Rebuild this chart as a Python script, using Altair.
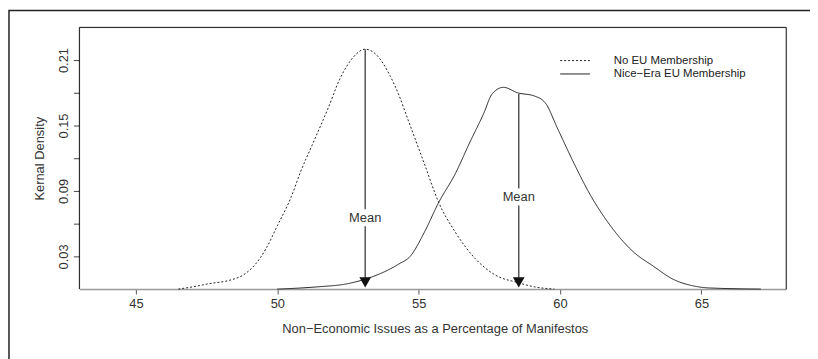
import altair as alt
import pandas as pd

# ---- data ----
no_eu_x = [46.5, 47.0, 47.6, 48.3, 48.8, 49.2, 49.6, 50.0, 50.5, 50.8, 51.3, 51.8, 52.2,
           52.7, 53.1, 53.5, 54.0, 54.3, 54.6, 55.2, 55.7, 56.3, 57.0, 57.7, 58.5, 59.1, 59.8]
no_eu_y = [0.0, 0.002, 0.005, 0.008, 0.013, 0.022, 0.037, 0.058, 0.085, 0.106, 0.136, 0.166, 0.192,
           0.213, 0.220, 0.215, 0.195, 0.178, 0.157, 0.115, 0.080, 0.052, 0.028, 0.013, 0.006, 0.002, 0.0]

nice_x = [50.0, 51.4, 52.5, 53.1, 53.8, 54.3, 54.7, 55.2, 55.7, 56.3, 56.8, 57.3, 57.6, 58.0,
          58.5, 59.1, 59.5, 59.9, 60.5, 61.1, 61.7, 62.6, 63.3, 64.0, 64.7, 65.3, 67.1]
nice_y = [0.0, 0.002, 0.005, 0.009, 0.016, 0.023, 0.030, 0.052, 0.079, 0.106, 0.134, 0.161, 0.179, 0.185,
          0.180, 0.177, 0.170, 0.148, 0.115, 0.085, 0.061, 0.034, 0.021, 0.009, 0.003, 0.001, 0.0]

series_names = ["No EU Membership", "Nice\u2212Era EU Membership"]

mean_x = [53.11, 58.54]
mean_top = [0.220, 0.179]
mean_label_y = [0.0655, 0.0845]

x_ticks = [45, 50, 55, 60, 65]
y_ticks = [0.03, 0.06, 0.09, 0.12, 0.15, 0.18, 0.21]

# ---- tables ----
curves = pd.DataFrame({
    "x": no_eu_x + nice_x,
    "y": no_eu_y + nice_y,
    "series": [series_names[0]] * len(no_eu_x) + [series_names[1]] * len(nice_x),
})
gap = 0.0078
means = pd.DataFrame({
    "x": mean_x,
    "top": mean_top,
    "hi": [v + gap for v in mean_label_y],
    "lo": [v - gap for v in mean_label_y],
    "bot": [0.006, 0.006],
    "head": [0.0062, 0.0062],
    "label": mean_label_y,
    "text": ["Mean", "Mean"],
})

W, H = 713, 264
FONT = "Liberation Sans"
FS = 13
xscale = alt.Scale(domain=[43, 68], nice=False, zero=False)
yscale = alt.Scale(domain=[0, 0.24], nice=False, zero=False)

xaxis = alt.Axis(values=x_ticks, grid=False, title="Non\u2212Economic Issues as a Percentage of Manifestos",
                 domainColor="#9a9a9a", domainWidth=1.5, tickColor="#555", tickSize=5, tickWidth=1,
                 labelPadding=4, labelFontSize=FS, labelColor="#333", labelFont=FONT,
                 titleFontSize=FS, titleFontWeight="normal", titleColor="#333", titleFont=FONT,
                 titleY=40, titleBaseline="middle", titleX=W / 2 + 2, titleAlign="center")
yaxis = alt.Axis(values=y_ticks, grid=False, domain=False,
                 labelExpr="round(datum.value*100) % 6 == 3 ? format(datum.value, '.2f') : ''",
                 labelAngle=270, labelAlign="center", labelBaseline="bottom", labelPadding=3,
                 tickSize=6, tickColor="#444", labelFontSize=FS, labelColor="#333", labelFont=FONT,
                 title="Kernal Density", titleAngle=270, titleX=-40, titleY=H / 2,
                 titleBaseline="middle", titleAlign="center", titleFontSize=FS,
                 titleFontWeight="normal", titleColor="#333", titleFont=FONT)

lines = alt.Chart(curves).mark_line(interpolate="monotone", color="#222", strokeWidth=1).encode(
    x=alt.X("x:Q", scale=xscale, axis=xaxis),
    y=alt.Y("y:Q", scale=yscale, axis=yaxis),
    strokeDash=alt.StrokeDash("series:N", scale=alt.Scale(domain=series_names, range=[[2, 2], [1, 0]]), legend=None),
    order=alt.Order("x:Q"),
)

base_m = alt.Chart(means)
rule_up = base_m.mark_rule(color="#555", strokeWidth=1.5).encode(
    x=alt.X("x:Q", scale=xscale), y=alt.Y("top:Q", scale=yscale), y2="hi:Q")
rule_dn = base_m.mark_rule(color="#555", strokeWidth=1.5).encode(
    x=alt.X("x:Q", scale=xscale), y=alt.Y("lo:Q", scale=yscale), y2="bot:Q")
heads = base_m.mark_point(shape="triangle-down", filled=True, color="#111", opacity=1, size=140).encode(
    x=alt.X("x:Q", scale=xscale), y=alt.Y("head:Q", scale=yscale))
labels = base_m.mark_text(font=FONT, fontSize=FS, color="#333", baseline="middle", align="center").encode(
    x=alt.X("x:Q", scale=xscale), y=alt.Y("label:Q", scale=yscale), text="text:N")

one = alt.Data(values=[{}])
top_rule = alt.Chart(one).mark_rule(color="#111", strokeWidth=1).encode(
    x=alt.value(0), x2=alt.value(W), y=alt.value(0))
left_rule = alt.Chart(one).mark_rule(color="#111", strokeWidth=1).encode(
    x=alt.value(0), y=alt.value(0), y2=alt.value(H))
right_rule = alt.Chart(one).mark_rule(color="#111", strokeWidth=1).encode(
    x=alt.value(W), y=alt.value(0), y2=alt.value(H))
frame = alt.Chart(one).mark_rect(fillOpacity=0, stroke="#222", strokeWidth=1.5).encode(
    x=alt.value(-71), x2=alt.value(W + 60), y=alt.value(-17), y2=alt.value(H + 120))

leg_dot = alt.Chart(one).mark_rule(color="#222", strokeWidth=1, strokeDash=[2, 2]).encode(
    x=alt.value(485), x2=alt.value(515), y=alt.value(33.5))
leg_sol = alt.Chart(one).mark_rule(color="#222", strokeWidth=1).encode(
    x=alt.value(485), x2=alt.value(515), y=alt.value(47))
leg_t1 = alt.Chart(one).mark_text(font=FONT, fontSize=11.5, color="#222", align="left", baseline="middle",
                                  text=series_names[0]).encode(x=alt.value(539), y=alt.value(33.5))
leg_t2 = alt.Chart(one).mark_text(font=FONT, fontSize=11.5, color="#222", align="left", baseline="middle",
                                  text=series_names[1]).encode(x=alt.value(539), y=alt.value(47))

chart = alt.layer(
    lines, rule_up, rule_dn, heads, labels,
    top_rule, left_rule, right_rule, frame,
    leg_dot, leg_sol, leg_t1, leg_t2,
).properties(
    width=W, height=H,
    padding={"left": 72, "top": 18, "right": 24, "bottom": 69},
    autosize=alt.AutoSizeParams(type="none"),
    background="white",
).configure_view(stroke=None).configure(font=FONT)

chart.save("out.html", embed_options={"renderer": "svg", "actions": False})
